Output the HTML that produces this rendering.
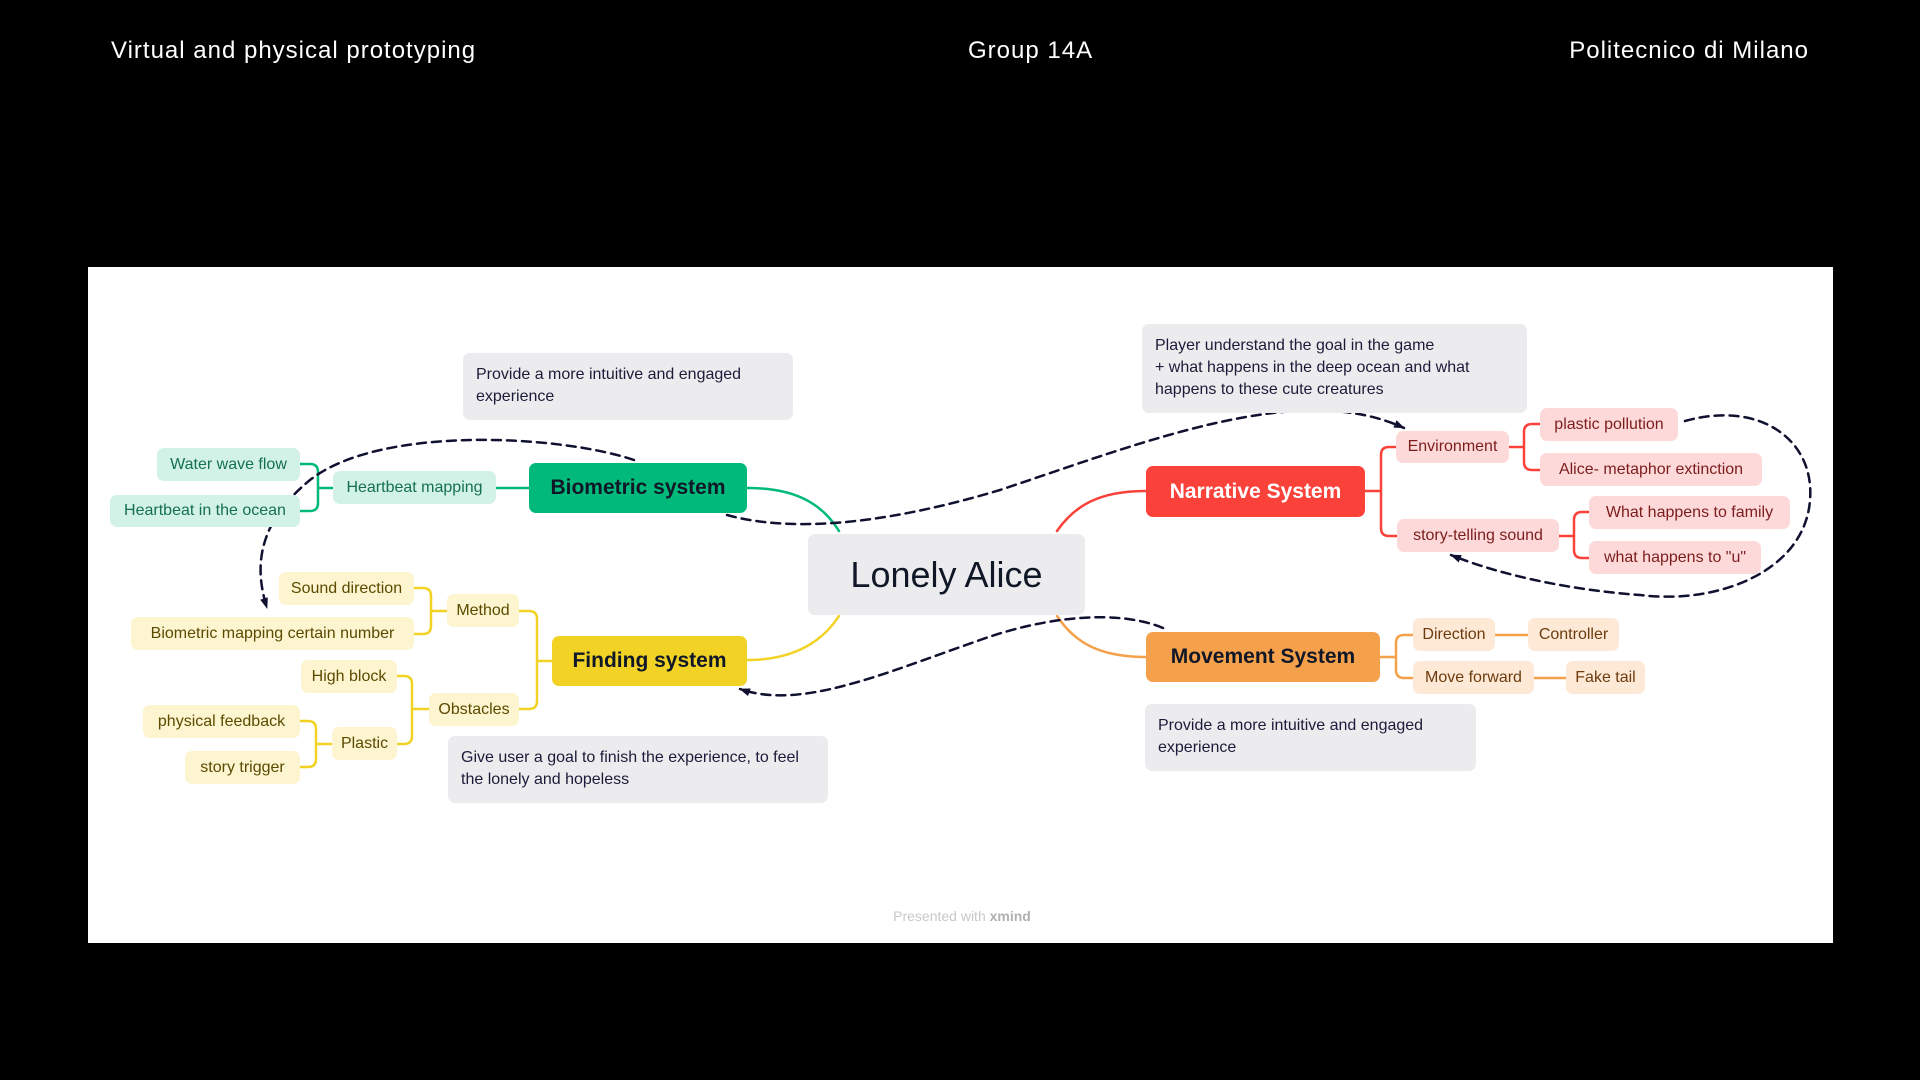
<!DOCTYPE html>
<html><head><meta charset="utf-8"><style>
body{margin:0;width:1920px;height:1080px;background:#000;position:relative;overflow:hidden;font-family:"Liberation Sans",sans-serif}
.h{position:absolute;top:37px;color:#fff;font-size:24px;letter-spacing:1px}
#panel{position:absolute;left:88px;top:267px;width:1745px;height:676px;background:#fff}
.b{position:absolute;display:flex;align-items:center;justify-content:center;border-radius:7px;font-size:16px;white-space:nowrap;box-sizing:border-box}
.g{background:#d2f2e7;color:#15704f}.y{background:#fdf5d0;color:#5b4a00}.r{background:#fddad9;color:#7c1d1d}.o{background:#fde9d5;color:#6d3b0e}
.m{font-size:21px;font-weight:bold;color:#101828}
.n{position:absolute;background:#ecebee;border-radius:7px;color:#1c1c3a;font-size:16px;line-height:22px;padding:11px 13px;box-sizing:border-box}
svg{position:absolute;left:0;top:0}
</style></head><body>
<div class="h" style="left:111px">Virtual and physical prototyping</div>
<div class="h" style="left:968px">Group 14A</div>
<div class="h" style="right:111px">Politecnico di Milano</div>
<div id="panel"></div>
<svg width="1920" height="1080">
<defs><marker id="a" markerUnits="userSpaceOnUse" markerWidth="12" markerHeight="12" refX="10" refY="6" orient="auto"><path d="M0,2 L11,6 L0,10 Z" fill="#101030"/></marker></defs>
<g fill="none" stroke-width="2.5" stroke-linecap="round">
<g stroke="#00b97a"><path d="M839,531 C820,500 790,488 747,488"/><path d="M496,488 H529 M333,488 H318 M300,464 H310 Q318,464 318,472 V503 Q318,511 310,511 H300"/></g>
<g stroke="#f2d325"><path d="M839,616 C820,645 790,660 747,660"/><path d="M552,661 H537 M519,611 H529 Q537,611 537,619 V701 Q537,709 529,709 H519 M447,611 H431 M414,588 H423 Q431,588 431,596 V626 Q431,634 423,634 H414 M429,709 H412 M397,676 H404 Q412,676 412,684 V736 Q412,744 404,744 H397 M332,744 H316 M300,721 H308 Q316,721 316,729 V759 Q316,767 308,767 H300"/></g>
<g stroke="#fa423b"><path d="M1057,531 C1075,505 1100,491 1146,491"/><path d="M1365,491 H1381 M1396,447 H1389 Q1381,447 1381,455 V528 Q1381,536 1389,536 H1397 M1509,447 H1524 M1540,424 H1532 Q1524,424 1524,432 V462 Q1524,470 1532,470 H1540 M1559,536 H1574 M1589,512 H1582 Q1574,512 1574,520 V550 Q1574,558 1582,558 H1589"/></g>
<g stroke="#f5a04a"><path d="M1057,616 C1075,643 1100,657 1146,657"/><path d="M1380,657 H1396 M1413,635 H1404 Q1396,635 1396,643 V670 Q1396,678 1404,678 H1413 M1495,635 H1528 M1534,678 H1566"/></g>
<g stroke="#101030" stroke-dasharray="9,6">
<path d="M634,460 C560,435 380,425 310,480 C255,525 255,570 267,608" marker-end="url(#a)"/>
<path d="M727,515 C800,535 900,520 1000,490 C1150,440 1300,380 1404,428" marker-end="url(#a)"/>
<path d="M1685,421 C1760,400 1815,440 1810,500 C1805,570 1720,605 1640,595 C1570,590 1500,575 1451,555" marker-end="url(#a)"/>
<path d="M1163,628 C1120,610 1050,615 980,640 C880,675 800,710 740,689" marker-end="url(#a)"/>
</g></g></svg>

<div class="b" style="left:808px;top:534px;width:277px;height:81px;background:#ececee;color:#101828;font-size:36px">Lonely Alice</div>

<div class="b m" style="left:529px;top:463px;width:218px;height:50px;background:#00b97a">Biometric system</div>
<div class="b g" style="left:333px;top:471px;width:163px;height:33px">Heartbeat mapping</div>
<div class="b g" style="left:157px;top:448px;width:143px;height:33px">Water wave flow</div>
<div class="b g" style="left:110px;top:495px;width:190px;height:32px">Heartbeat in the ocean</div>
<div class="n" style="left:463px;top:353px;width:330px;height:67px">Provide a more intuitive and engaged experience</div>

<div class="b m" style="left:552px;top:636px;width:195px;height:50px;background:#f2d325">Finding system</div>
<div class="b y" style="left:447px;top:594px;width:72px;height:33px">Method</div>
<div class="b y" style="left:279px;top:572px;width:135px;height:33px">Sound direction</div>
<div class="b y" style="left:131px;top:617px;width:283px;height:33px">Biometric mapping certain number</div>
<div class="b y" style="left:429px;top:693px;width:90px;height:33px">Obstacles</div>
<div class="b y" style="left:301px;top:660px;width:96px;height:33px">High block</div>
<div class="b y" style="left:332px;top:727px;width:65px;height:33px">Plastic</div>
<div class="b y" style="left:143px;top:705px;width:157px;height:33px">physical feedback</div>
<div class="b y" style="left:185px;top:751px;width:115px;height:33px">story trigger</div>
<div class="n" style="left:448px;top:736px;width:380px;height:67px">Give user a goal to finish the experience, to feel the lonely and hopeless</div>

<div class="b m" style="left:1146px;top:466px;width:219px;height:51px;background:#fa423b;color:#fff">Narrative System</div>
<div class="b r" style="left:1396px;top:431px;width:113px;height:32px">Environment</div>
<div class="b r" style="left:1540px;top:408px;width:138px;height:33px">plastic pollution</div>
<div class="b r" style="left:1540px;top:453px;width:222px;height:33px">Alice- metaphor extinction</div>
<div class="b r" style="left:1397px;top:519px;width:162px;height:33px">story-telling sound</div>
<div class="b r" style="left:1589px;top:496px;width:201px;height:33px">What happens to family</div>
<div class="b r" style="left:1589px;top:541px;width:172px;height:33px">what happens to "u"</div>
<div class="n" style="left:1142px;top:324px;width:385px;height:89px">Player understand the goal in the game<br>+ what happens in the deep ocean and what happens to these cute creatures</div>

<div class="b m" style="left:1146px;top:632px;width:234px;height:50px;background:#f5a04a">Movement System</div>
<div class="b o" style="left:1413px;top:618px;width:82px;height:33px">Direction</div>
<div class="b o" style="left:1528px;top:618px;width:91px;height:33px">Controller</div>
<div class="b o" style="left:1413px;top:661px;width:121px;height:33px">Move forward</div>
<div class="b o" style="left:1566px;top:661px;width:79px;height:33px">Fake tail</div>
<div class="n" style="left:1145px;top:704px;width:331px;height:67px">Provide a more intuitive and engaged experience</div>

<div style="position:absolute;left:862px;top:908px;width:200px;text-align:center;color:#c8c8c8;font-size:14px">Presented with <b style="color:#b0b0b0">xmind</b></div>
</body></html>
